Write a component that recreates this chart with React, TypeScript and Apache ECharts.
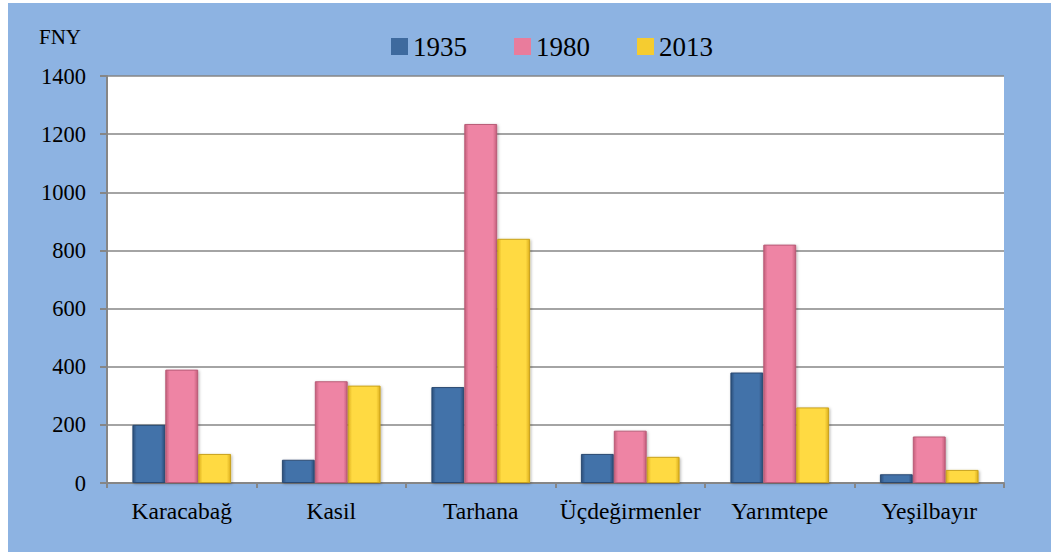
import React, { useEffect, useRef } from "react";
import * as echarts from "echarts";

const categories = ["Karacabağ", "Kasil", "Tarhana", "Üçdeğirmenler", "Yarımtepe", "Yeşilbayır"];
const seriesNames = ["1935", "1980", "2013"];
const values1935 = [200, 80, 330, 100, 380, 30];
const values1980 = [390, 350, 1235, 180, 820, 160];
const values2013 = [100, 335, 840, 90, 260, 45];
const yTicks = { min: 0, max: 1400, interval: 200 };

const palette = [
  { edge: "#2A4E7A", mid: "#4372A9", border: "#2A4A72", legend: "#3E6A9E" },
  { edge: "#C45E7B", mid: "#EE84A4", border: "#B85C77", legend: "#E97C9C" },
  { edge: "#DDAF1E", mid: "#FFDA42", border: "#C9A21C", legend: "#F5CC30" },
];

const FONT = "Liberation Serif";

export default function App() {
  const ref = useRef<HTMLDivElement>(null);
  useEffect(() => {
    if (!ref.current) return;
    const chart = echarts.init(ref.current, undefined, { renderer: "svg" });
    const data = [values1935, values1980, values2013];
    chart.setOption({
      animation: false,
      backgroundColor: "#8DB3E2",
      textStyle: { fontFamily: FONT },
      grid: { left: 99, right: 47, top: 73, bottom: 69, show: true, backgroundColor: "#FFFFFF", borderWidth: 0 },
      legend: {
        left: 378,
        top: 25,
        itemWidth: 17,
        itemHeight: 17,
        itemGap: 47,
        icon: "rect",
        textStyle: { fontFamily: FONT, fontSize: 27, color: "#000" },
        data: seriesNames.map((n, i) => ({
          name: n,
          itemStyle: { color: palette[i].legend, borderWidth: 0, shadowBlur: 0 },
        })),
      },
      graphic: [
        {
          type: "text",
          left: 31,
          top: 23,
          style: { text: "FNY", fontFamily: FONT, fontSize: 21, fill: "#000" },
        },
      ],
      xAxis: {
        type: "category",
        data: categories,
        axisLine: { lineStyle: { color: "#868686", width: 2 } },
        axisTick: { show: true, length: 5, lineStyle: { color: "#868686", width: 2 } },
        axisLabel: { fontFamily: FONT, fontSize: 23.5, color: "#000", margin: 16, interval: 0 },
      },
      yAxis: {
        type: "value",
        min: yTicks.min,
        max: yTicks.max,
        interval: yTicks.interval,
        axisLine: { show: true, lineStyle: { color: "#868686", width: 2 } },
        axisTick: { show: true, length: 7, lineStyle: { color: "#868686", width: 2 } },
        axisLabel: {
          fontFamily: FONT,
          fontSize: 22.5,
          color: "#000",
          margin: 21,
          formatter: (v: number) => String(v),
        },
        splitLine: { show: true, lineStyle: { color: "#868686", width: 1.7 } },
      },
      series: seriesNames.map((name, i) => ({
        name,
        type: "bar",
        data: data[i],
        barGap: "0%",
        barCategoryGap: "34%",
        itemStyle: {
          color: new echarts.graphic.LinearGradient(0, 0, 1, 0, [
            { offset: 0, color: palette[i].edge },
            { offset: 0.12, color: palette[i].mid },
            { offset: 0.88, color: palette[i].mid },
            { offset: 1, color: palette[i].edge },
          ]),
          borderColor: palette[i].border,
          borderWidth: 1,
          shadowBlur: 3,
          shadowColor: "rgba(0,0,0,0.3)",
          shadowOffsetX: 1,
          shadowOffsetY: 1,
        },
      })),
    });
    return () => chart.dispose();
  }, []);
  return (
    <div
      ref={ref}
      style={{ position: "absolute", left: 8, top: 3, width: 1043, height: 549 }}
    />
  );
}
